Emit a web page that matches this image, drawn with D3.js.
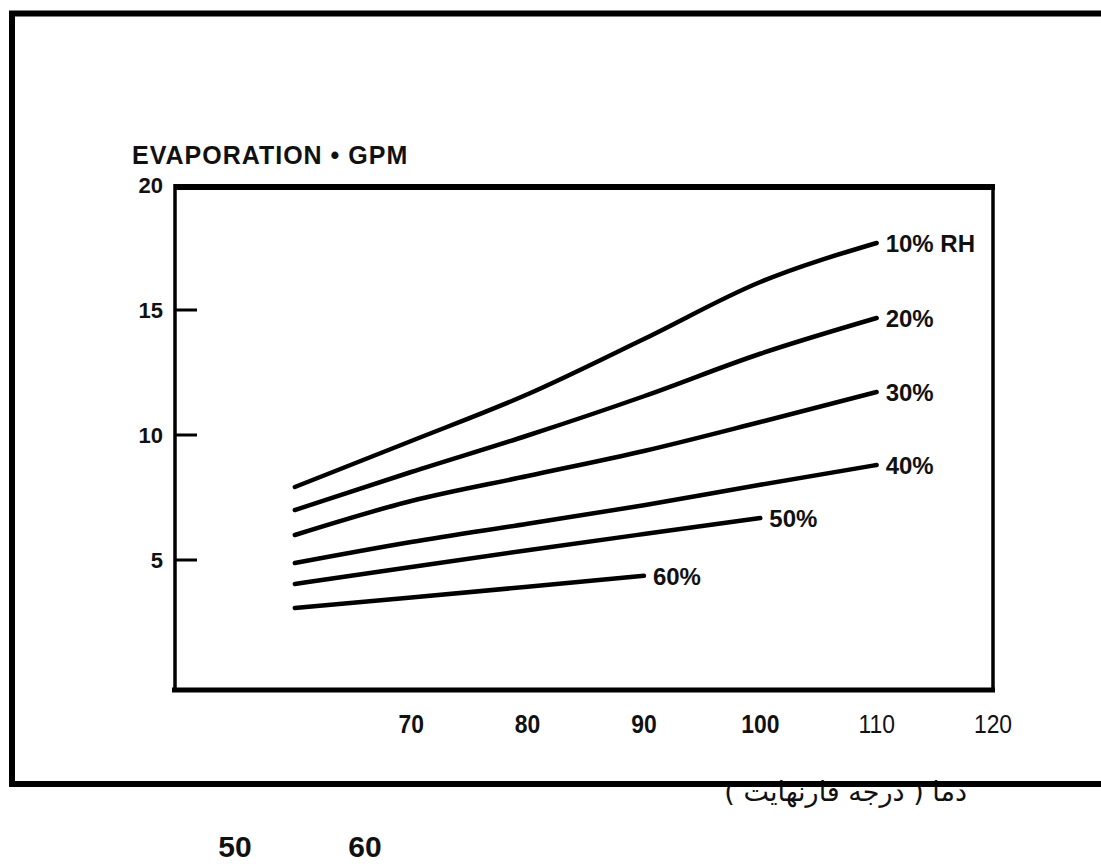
<!DOCTYPE html>
<html>
<head>
<meta charset="utf-8">
<script src="https://cdn.jsdelivr.net/npm/d3@7"></script>
<style>
  html, body { margin: 0; padding: 0; background: #fff; }
  svg { display: block; }
  text { font-family: "Liberation Sans", Arial, sans-serif; fill: #111; }
</style>
</head>
<body>
<svg id="chart" width="1101" height="867"></svg>
<script>
// ---- data ----
const temps = [60, 70, 80, 90, 100, 110];
const rh10 = [7.92, 9.76, 11.63, 13.84, 16.12, 17.68];
const rh20 = [7.0, 8.52, 9.98, 11.55, 13.25, 14.68];
const rh30 = [6.0, 7.36, 8.36, 9.36, 10.52, 11.72];
const rh40 = [4.88, 5.72, 6.45, 7.19, 8.01, 8.80];
const rh50 = [4.04, 4.72, 5.39, 6.04, 6.68];
const rh60 = [3.08, 3.50, 3.93, 4.37];
const seriesNames = ["10% RH", "20%", "30%", "40%", "50%", "60%"];
const xTickValues = [70, 80, 90, 100, 110, 120];
const xTickBold = [true, true, true, true, false, false];
const yTickValues = [20, 15, 10, 5];
const yTickMarks = [15, 10, 5];
const titleText = "EVAPORATION \u2022 GPM";
const xAxisTitle = "دما ( درجه فارنهایت )";
const extraLabels = ["50", "60"];

const seriesValues = [rh10, rh20, rh30, rh40, rh50, rh60];

const svg = d3.select("#chart");

const x = d3.scaleLinear().domain([49.7, 120]).range([175, 993]);
const y = d3.scaleLinear().domain([0, 20]).range([685, 185]);

// x-axis title (Persian), drawn before outer frame so the frame overlaps it
svg.append("text")
  .attr("x", 967).attr("y", 801)
  .attr("direction", "rtl")
  .attr("text-anchor", "start")
  .style("font-family", "'DejaVu Sans', sans-serif")
  .style("font-size", "27px")
  .text(xAxisTitle);

// outer frame
svg.append("path")
  .attr("d", "M1101,13.5 L12,13.5 L12,784 L1101,784")
  .attr("fill", "none").attr("stroke", "#000").attr("stroke-width", 6);

// inner plot frame
const fx0 = x.range()[0], fx1 = x.range()[1];
const fy0 = y(20) + 2, fy1 = 690;
svg.append("line").attr("x1", fx0 - 1).attr("x2", fx1 + 2).attr("y1", fy0).attr("y2", fy0)
  .attr("stroke", "#000").attr("stroke-width", 6);
svg.append("line").attr("x1", fx0).attr("x2", fx0).attr("y1", fy0 - 3).attr("y2", fy1 + 2)
  .attr("stroke", "#000").attr("stroke-width", 3.5);
svg.append("line").attr("x1", fx1).attr("x2", fx1).attr("y1", fy0 - 3).attr("y2", fy1 + 2)
  .attr("stroke", "#000").attr("stroke-width", 3.5);
svg.append("line").attr("x1", fx0 - 3).attr("x2", fx1 + 2).attr("y1", fy1).attr("y2", fy1)
  .attr("stroke", "#000").attr("stroke-width", 5);

// y tick marks (inward)
svg.selectAll(".ytick").data(yTickMarks).enter().append("line")
  .attr("x1", fx0).attr("x2", fx0 + 22)
  .attr("y1", d => y(d)).attr("y2", d => y(d))
  .attr("stroke", "#000").attr("stroke-width", 3);

// y tick labels
svg.selectAll(".ylab").data(yTickValues).enter().append("text")
  .attr("x", 163).attr("y", d => y(d) + 8)
  .attr("text-anchor", "end")
  .style("font-size", "22px").style("font-weight", "bold")
  .text(d => d);

// x tick labels
svg.selectAll(".xlab").data(xTickValues).enter().append("text")
  .attr("transform", d => `translate(${x(d)},733) scale(0.88,1)`)
  .attr("text-anchor", "middle")
  .style("font-size", "26px")
  .style("font-weight", (d, i) => xTickBold[i] ? "bold" : "normal")
  .text(d => d);

// title
svg.append("text")
  .attr("x", 132).attr("y", 164)
  .style("font-size", "25px").style("font-weight", "bold")
  .style("letter-spacing", "1px")
  .text(titleText);

// series lines
const line = d3.line()
  .x(d => x(d[0]))
  .y(d => y(d[1]))
  .curve(d3.curveMonotoneX);

seriesValues.forEach((vals, i) => {
  const pts = vals.map((v, j) => [temps[j], v]);
  svg.append("path")
    .datum(pts)
    .attr("d", line)
    .attr("fill", "none")
    .attr("stroke", "#000")
    .attr("stroke-width", 4.5)
    .attr("stroke-linecap", "round");
  const last = pts[pts.length - 1];
  svg.append("text")
    .attr("x", x(last[0]) + 9)
    .attr("y", y(last[1]) + 9)
    .style("font-size", "24px").style("font-weight", "bold")
    .text(seriesNames[i]);
});

// extra labels at bottom
const extraX = d3.scalePoint().domain(extraLabels).range([235, 365]);
svg.selectAll(".extra").data(extraLabels).enter().append("text")
  .attr("x", d => extraX(d)).attr("y", 857)
  .attr("text-anchor", "middle")
  .style("font-size", "30px").style("font-weight", "bold")
  .text(d => d);
</script>
</body>
</html>
